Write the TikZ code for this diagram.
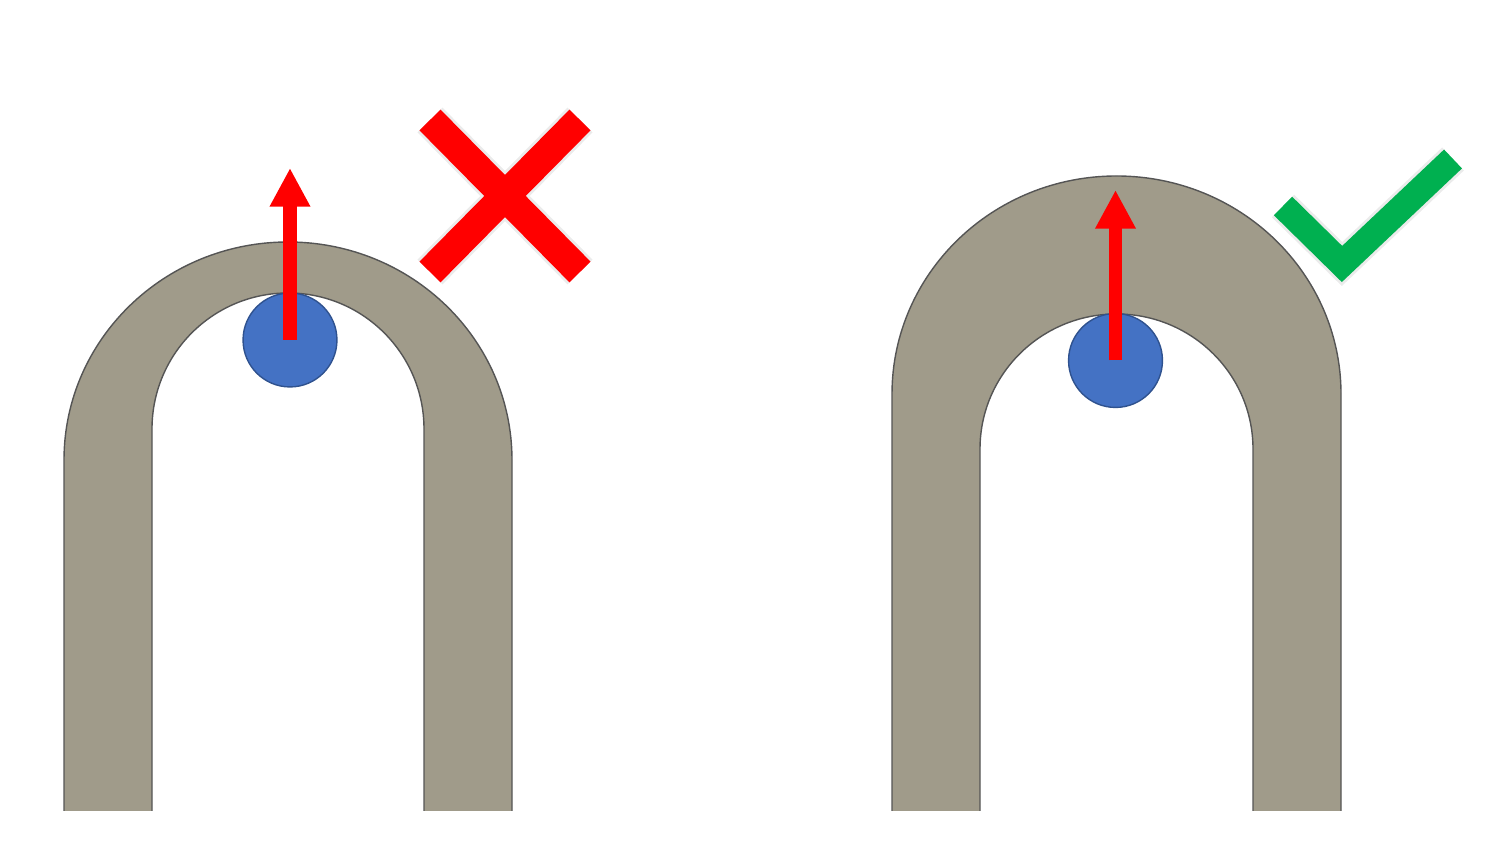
\documentclass[tikz,border=0pt]{standalone}
\usetikzlibrary{arrows.meta}
\definecolor{archgray}{HTML}{A09B8A}
\definecolor{archline}{HTML}{555555}
\definecolor{dotblue}{HTML}{4472C4}
\definecolor{dotline}{HTML}{2F528F}
\definecolor{okgreen}{HTML}{00B050}
\tikzset{
  archfill/.style={fill=archgray, draw=none},
  archedge/.style={draw=archline, line width=0.4pt},
  dot/.style={circle, fill=dotblue, draw=dotline, line width=0.4pt, minimum size=26.7pt, inner sep=0pt},
  force/.style={draw=red, line width=3.9pt, -{Triangle[width=10.8pt,length=11pt]}},
  halo/.style={draw=black!8, line width=10pt},
  crossbar/.style={draw=red, line width=8.4pt},
  tick/.style={draw=okgreen, line width=7.4pt, miter limit=10}
}
\begin{document}
\begin{tikzpicture}[x=0.01cm,y=0.01cm]
\useasboundingbox (0,0) rectangle (1500,843);
% left arch (wrong)
\path[archfill] (64,32) -- (64,383) arc[start angle=180,end angle=0,x radius=224,y radius=218]
  -- (512,32) -- (424,32) -- (424,414) arc[start angle=0,end angle=180,radius=136] -- (152,32) -- cycle;
\draw[archedge] (64,32) -- (64,383) arc[start angle=180,end angle=0,x radius=224,y radius=218] -- (512,32);
\draw[archedge] (424,32) -- (424,414) arc[start angle=0,end angle=180,radius=136] -- (152,32);
% right arch (right)
\path[archfill] (892,32) -- (892,449) arc[start angle=180,end angle=0,x radius=224.5,y radius=218]
  -- (1341,32) -- (1253,32) -- (1253,394) arc[start angle=0,end angle=180,x radius=136.5,y radius=135] -- (980,32) -- cycle;
\draw[archedge] (892,32) -- (892,449) arc[start angle=180,end angle=0,x radius=224.5,y radius=218] -- (1341,32);
\draw[archedge] (1253,32) -- (1253,394) arc[start angle=0,end angle=180,x radius=136.5,y radius=135] -- (980,32);
% particles and arrows
\node[dot] (d1) at (290,503) {};
\node[dot] (d2) at (1115.5,482.5) {};
\coordinate (t1) at (290,675);
\coordinate (t2) at (1115.5,653);
\draw[force] (d1.center) -- (t1);
\draw[force] (d2.center) -- (t2);
% cross
\coordinate (xa) at (430,723);
\coordinate (xb) at (580,571);
\coordinate (xc) at (580,723);
\coordinate (xd) at (430,571);
\draw[halo] (xa) -- (xb);
\draw[halo] (xc) -- (xd);
\draw[crossbar] (xa) -- (xb);
\draw[crossbar] (xc) -- (xd);
% tick
\coordinate (ka) at (1283,637);
\coordinate (kb) at (1342,579);
\coordinate (kc) at (1453,684);
\draw[halo, line width=9pt, miter limit=10] (ka) -- (kb) -- (kc);
\draw[tick] (ka) -- (kb) -- (kc);
\end{tikzpicture}
\end{document}
